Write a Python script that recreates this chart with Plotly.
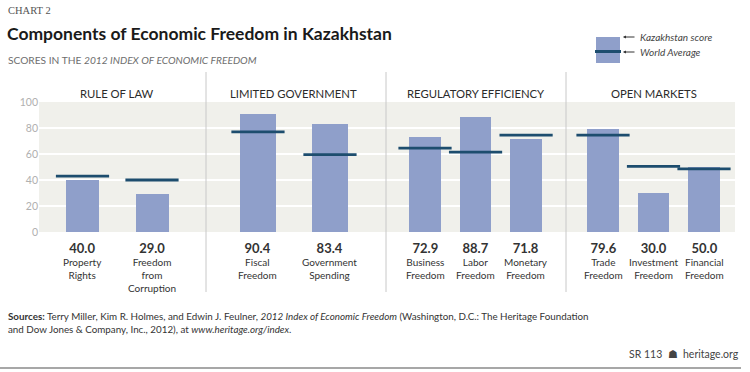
import plotly.graph_objects as go
from plotly.subplots import make_subplots

# ---------------- data ----------------
group_names = ["RULE OF LAW", "LIMITED GOVERNMENT", "REGULATORY EFFICIENCY", "OPEN MARKETS"]
categories = ["Property Rights", "Freedom from Corruption",
              "Fiscal Freedom", "Government Spending",
              "Business Freedom", "Labor Freedom", "Monetary Freedom",
              "Trade Freedom", "Investment Freedom", "Financial Freedom"]
category_group = [0, 0, 1, 1, 2, 2, 2, 3, 3, 3]
kazakhstan_score = [40.0, 29.0, 90.4, 83.4, 72.9, 88.7, 71.8, 79.6, 30.0, 50.0]
world_average = [43.0, 40.0, 77.0, 59.5, 64.5, 61.5, 74.5, 74.5, 50.5, 48.5]
tick_labels = ["Property<br>Rights", "Freedom<br>from<br>Corruption",
               "Fiscal<br>Freedom", "Government<br>Spending",
               "Business<br>Freedom", "Labor<br>Freedom", "Monetary<br>Freedom",
               "Trade<br>Freedom", "Investment<br>Freedom", "Financial<br>Freedom"]
y_ticks = [0, 20, 40, 60, 80, 100]

# ---------------- layout geometry ----------------
W, H = 750, 372
ML, MR, MT, MB = 39, 15, 102, 140
PW, PH = W - ML - MR, H - MT - MB

def px_x(p):
    return (p - ML) / PW

def px_y(p):
    return (H - MB - p) / PH

group_px = [(39, 206), (206, 386), (386, 566), (566, 735)]
x_ranges = [[-0.626, 1.777], [-0.722, 1.778], [-0.772, 2.79], [-0.733, 2.614]]
bar_widths = [0.475, 0.5, 0.63, 0.63]

FONT = "Lato"
BAR = "#8f9fca"
AVG = "#1d4d6e"
BG = "#f0f0eb"

fig = make_subplots(rows=1, cols=4, shared_yaxes=True, horizontal_spacing=0)

for g in range(4):
    idx = [i for i, cg in enumerate(category_group) if cg == g]
    cats = [categories[i] for i in idx]
    fig.add_trace(go.Bar(
        x=cats, y=[kazakhstan_score[i] for i in idx],
        marker=dict(color=BAR, line=dict(width=0)),
        width=bar_widths[g], showlegend=False, hoverinfo="x+y"),
        row=1, col=g + 1)
    fig.add_trace(go.Scatter(
        x=cats, y=[world_average[i] for i in idx], mode="markers",
        marker=dict(symbol="line-ew", size=38, line=dict(color=AVG, width=2.8)),
        cliponaxis=False, showlegend=False),
        row=1, col=g + 1)
    ax = "xaxis" if g == 0 else f"xaxis{g + 1}"
    fig.layout[ax].update(
        domain=[px_x(group_px[g][0]), px_x(group_px[g][1])],
        range=x_ranges[g], showticklabels=False, showgrid=False,
        zeroline=False, showline=False, ticks="", fixedrange=True)
    xref = "x" if g == 0 else f"x{g + 1}"
    # group title
    fig.add_annotation(x=(len(cats) - 1) / 2, xref=xref, y=px_y(85), yref="paper",
                       text=group_names[g], showarrow=False,
                       font=dict(family=FONT, size=11.3, color="#2b2b2b"))
    for i in idx:
        fig.add_annotation(
            x=categories[i], xref=xref, y=px_y(238), yref="paper",
            yanchor="top", showarrow=False,
            text=(f"<span style='font-size:13px'><b>{kazakhstan_score[i]:.1f}</b></span>"
                  f"<br>{tick_labels[i]}"),
            font=dict(family=FONT, size=10, color="#333333"))

for g in range(4):
    ay = "yaxis" if g == 0 else f"yaxis{g + 1}"
    fig.layout[ay].update(range=[0, 100], tickvals=y_ticks, gridcolor="white",
                          gridwidth=1.5, zeroline=False, showline=False, ticks="",
                          fixedrange=True,
                          tickfont=dict(family=FONT, size=10.5, color="#b0b0b0"))

# separators between groups
for g in range(1, 4):
    xs = px_x(group_px[g][0])
    fig.add_shape(type="line", xref="paper", yref="paper", x0=xs, x1=xs,
                  y0=px_y(72), y1=px_y(292), line=dict(color="#c8c8c8", width=1))

# headings
fig.add_annotation(x=px_x(6), y=px_y(10), xref="paper", yref="paper", xanchor="left",
                   yanchor="middle", text="CHART 2", showarrow=False,
                   font=dict(family="Liberation Serif", size=10.5, color="#555555"))
fig.add_annotation(x=px_x(5), y=px_y(33), xref="paper", yref="paper", xanchor="left",
                   yanchor="middle", text="<b>Components of Economic Freedom in Kazakhstan</b>",
                   showarrow=False, font=dict(family=FONT, size=17.5, color="#1a1a1a"))
fig.add_annotation(x=px_x(6), y=px_y(60), xref="paper", yref="paper", xanchor="left",
                   yanchor="middle",
                   text="SCORES IN THE <i>2012 INDEX OF ECONOMIC FREEDOM</i>",
                   showarrow=False, font=dict(family=FONT, size=10.2, color="#6e6e6e"))

# legend (drawn)
fig.add_shape(type="rect", xref="paper", yref="paper", x0=px_x(596), x1=px_x(620),
              y0=px_y(63), y1=px_y(37), fillcolor=BAR, line=dict(width=0))
fig.add_shape(type="line", xref="paper", yref="paper", x0=px_x(595), x1=px_x(621),
              y0=px_y(51.5), y1=px_y(51.5), line=dict(color=AVG, width=3))
for yy, txt in [(37, "Kazakhstan score"), (52, "World Average")]:
    fig.add_annotation(x=px_x(623), y=px_y(yy), xref="paper", yref="paper",
                       ax=13, ay=0, text="", showarrow=True, arrowhead=2,
                       arrowsize=0.6, arrowwidth=1, arrowcolor="#333333")
    fig.add_annotation(x=px_x(638), y=px_y(yy), xref="paper", yref="paper",
                       xanchor="left", yanchor="middle", text=f"<i>{txt}</i>",
                       showarrow=False, font=dict(family=FONT, size=10, color="#444444"))

# footer
fig.add_annotation(
    x=px_x(6), y=px_y(308), xref="paper", yref="paper", xanchor="left", yanchor="top",
    align="left", showarrow=False,
    text=("<b>Sources:</b> Terry Miller, Kim R. Holmes, and Edwin J. Feulner, "
          "<i>2012 Index of Economic Freedom</i> (Washington, D.C.: The Heritage Foundation"
          "<br>and Dow Jones &amp; Company, Inc., 2012), at <i>www.heritage.org/index</i>."),
    font=dict(family=FONT, size=9.8, color="#333333"))
fig.add_annotation(x=px_x(741), y=px_y(354), xref="paper", yref="paper",
                   xanchor="right", yanchor="middle", showarrow=False,
                   text="SR 113  \u2617  heritage.org",
                   font=dict(family=FONT, size=10.5, color="#444444"))
fig.add_shape(type="line", xref="paper", yref="paper", x0=px_x(0), x1=px_x(741),
              y0=px_y(368), y1=px_y(368), line=dict(color="#8a8a8a", width=1.5))

fig.update_layout(
    width=W, height=H, margin=dict(l=ML, r=MR, t=MT, b=MB),
    paper_bgcolor="white", plot_bgcolor=BG, bargap=0,
    font=dict(family=FONT), showlegend=False)

fig.write_html("out.html", config={"displayModeBar": False},
               post_script="document.body.style.margin='0';document.body.style.overflow='hidden';")
